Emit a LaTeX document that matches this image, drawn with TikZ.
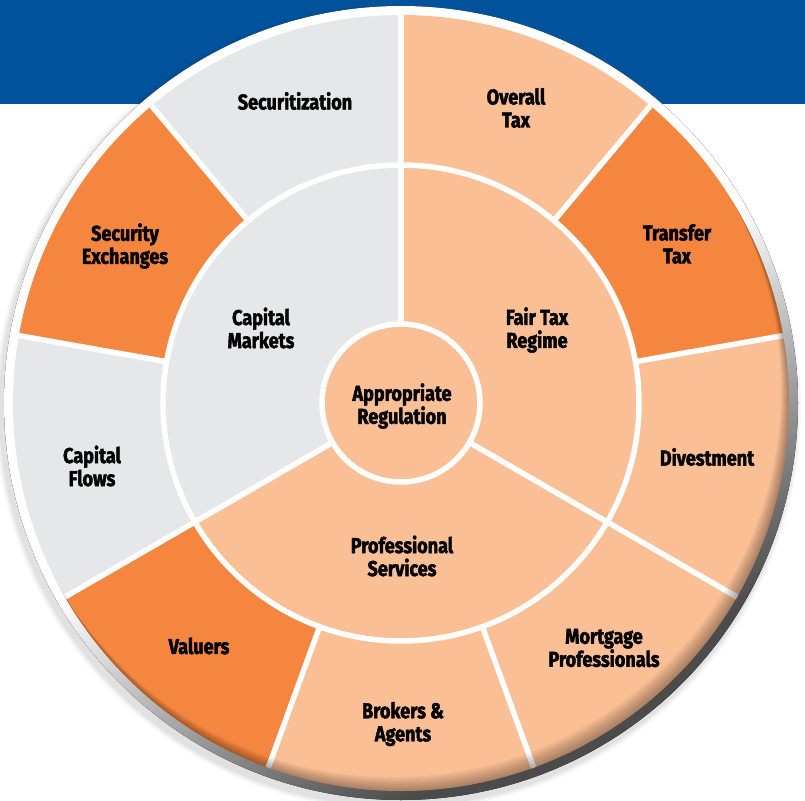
\documentclass[tikz,border=0pt]{standalone}
\usepackage{fontspec}
\newfontfamily\lblfont[FakeStretch=0.84, BoldFeatures={FakeBold=2}]{Fira Sans}
\definecolor{bannerblue}{HTML}{00529B}
\definecolor{peach}{HTML}{FABF95}
\definecolor{deeporange}{HTML}{F5863F}
\definecolor{paleGrey}{HTML}{E6E7E8}
\definecolor{rimdark}{HTML}{4B4B4B}
\definecolor{rimmid}{HTML}{9A9A9A}
\pgfdeclareverticalshading{rimshade}{100bp}{color(0bp)=(rimdark); color(28bp)=(rimdark); color(38bp)=(rimmid); color(50bp)=(white); color(100bp)=(white)}
\tikzset{
  lbl/.style={align=center, inner sep=0pt, text=black,
    font=\lblfont\bfseries\fontsize{21.5}{23}\selectfont},
  gap/.style={draw=white, line width=5.5pt}
}
\begin{document}
\begin{tikzpicture}[x=1pt,y=1pt]
\useasboundingbox (-401,-397) rectangle (404,403);
% header band
\fill[bannerblue] (-401,299) rectangle (404,403);
% soft drop shadow under the disc
\foreach \r/\o in {403/0.03, 401/0.04, 399/0.05}
  \fill[black, opacity=\o] (-3,-5) circle[radius=\r pt];
% bevelled rim
\fill[shading=rimshade, shading angle=30] (0,0) circle[radius=397pt];
% outer ring segments
\foreach \a/\b/\c in {10/50/deeporange, 50/90/peach, 90/130/paleGrey,
    130/170/deeporange, 170/210/paleGrey, 210/250/deeporange,
    250/290/peach, 290/330/peach, 330/370/peach}
  \fill[\c] (0,0) -- (\a:388pt) arc[start angle=\a, end angle=\b, radius=388pt] -- cycle;
% inner ring segments
\foreach \a/\b/\c in {90/210/paleGrey, 210/330/peach, 330/450/peach}
  \fill[\c] (0,0) -- (\a:238pt) arc[start angle=\a, end angle=\b, radius=238pt] -- cycle;
% hub
\fill[peach] (0,0) circle[radius=79pt];
% white gaps
\draw[gap] (0,0) circle[radius=238pt];
\draw[gap] (0,0) circle[radius=79pt];
\foreach \a in {90,210,330} \draw[gap] (\a:79pt) -- (\a:388pt);
\foreach \a in {10,50,130,170,250,290} \draw[gap] (\a:238pt) -- (\a:388pt);
% inner shadow along the lower right edge
\begin{scope}
  \clip (0,0) circle[radius=388pt];
  \foreach \d in {2,4,...,16}
    \fill[black, opacity=0.045, even odd rule] (0,0) circle[radius=392pt]
      ({\d*cos(120)},{\d*sin(120)}) circle[radius=388pt];
\end{scope}
% labels
\node[lbl] (secur)  at (-106,302) {Securitization};
\node[lbl] (overall) at (115,295) {Overall\\Tax};
\node[lbl] (transfer) at (276,159) {Transfer\\Tax};
\node[lbl] (divest) at (306,-54) {Divestment};
\node[lbl] (mortgage) at (203,-245) {Mortgage\\Professionals};
\node[lbl] (brokers) at (2,-321) {Brokers \&\\Agents};
\node[lbl] (valuers) at (-202,-243) {Valuers};
\node[lbl] (flows) at (-309,-63) {Capital\\Flows};
\node[lbl] (exch) at (-276,157) {Security\\Exchanges};
\node[lbl] (markets) at (-140,75) {Capital\\Markets};
\node[lbl] (fairtax) at (136,73) {Fair Tax\\Regime};
\node[lbl] (profserv) at (1,-153) {Professional\\Services};
\node[lbl] (hubtext) at (1,-3) {Appropriate\\Regulation};
\end{tikzpicture}
\end{document}
